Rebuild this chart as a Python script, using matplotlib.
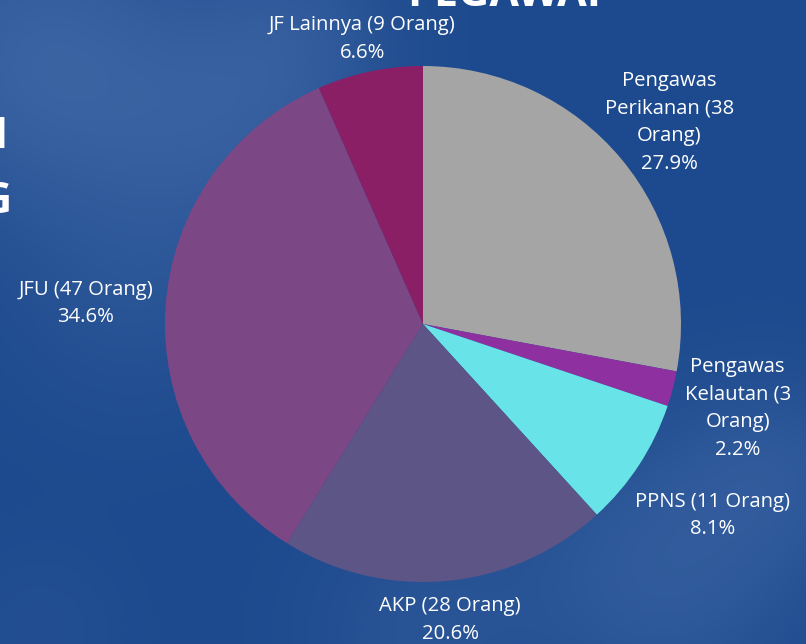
import numpy as np
import matplotlib
matplotlib.use("Agg")
import matplotlib.pyplot as plt

categories = ["Pengawas\nPerikanan (38\nOrang)", "Pengawas\nKelautan (3\nOrang)", "PPNS (11 Orang)",
              "AKP (28 Orang)", "JFU (47 Orang)", "JF Lainnya (9 Orang)"]
values = [38, 3, 11, 28, 47, 9]
colors = ["#A5A5A5", "#8E30A0", "#68E4E8", "#5E5587", "#7B4785", "#8A1F66"]
label_dist = [1.24, 1.26, 1.34, 1.14, 1.31, 1.14]

W, H = 806, 644
fig = plt.figure(figsize=(W / 100, H / 100), dpi=100)
ax = fig.add_axes([0, 0, 1, 1])

# background: blue with soft cloudy highlights
yy, xx = np.mgrid[0:H, 0:W].astype(float)
base = np.array([29, 74, 142], float) / 255
light = np.array([66, 106, 168], float) / 255
t = np.zeros((H, W))
blobs = [(40, 60, 110, 0.75), (230, 130, 90, 0.45), (300, 30, 70, 0.35), (660, 570, 100, 0.5),
         (780, 470, 70, 0.35), (130, 300, 90, 0.25), (420, 630, 80, 0.3), (40, 630, 60, 0.15)]
for bx, by, s, a in blobs:
    t += a * np.exp(-((xx - bx) ** 2 + (yy - by) ** 2) / (2 * s ** 2))
t = np.clip(t, 0, 1)
img = base[None, None, :] * (1 - t[..., None]) + light[None, None, :] * t[..., None]
ax.imshow(img, extent=[0, W, 0, H], origin="upper", zorder=0, interpolation="bilinear")

cx, cy, R = 423, H - 324, 258
wedges, _ = ax.pie(values, colors=colors, startangle=90, counterclock=False,
                   center=(cx, cy), radius=R, frame=True,
                   wedgeprops=dict(linewidth=0))
ax.set_xlim(0, W)
ax.set_ylim(0, H)
ax.set_aspect("equal")
ax.axis("off")

total = sum(values)
for w, lab, v, d in zip(wedges, categories, values, label_dist):
    ang = np.deg2rad((w.theta1 + w.theta2) / 2)
    x = cx + R * d * np.cos(ang)
    y = cy + R * d * np.sin(ang) - 3
    ax.text(x, y, f"{lab}\n{v / total * 100:.1f}%", ha="center", va="center",
            color="white", fontsize=14.6, family="Open Sans", linespacing=1.5, zorder=5)

# partially visible slide title text
ax.text(504, H - 6, "PEGAWAI", ha="center", va="baseline", color="white",
        fontsize=31, family="Open Sans", fontweight="bold", zorder=5)
ax.text(7, H - 148, "I", ha="right", va="baseline", color="white",
        fontsize=31, family="Open Sans", fontweight="bold", zorder=5)
ax.text(12, H - 213, "G", ha="right", va="baseline", color="white",
        fontsize=31, family="Open Sans", fontweight="bold", zorder=5)

fig.savefig("out.png", dpi=100)
